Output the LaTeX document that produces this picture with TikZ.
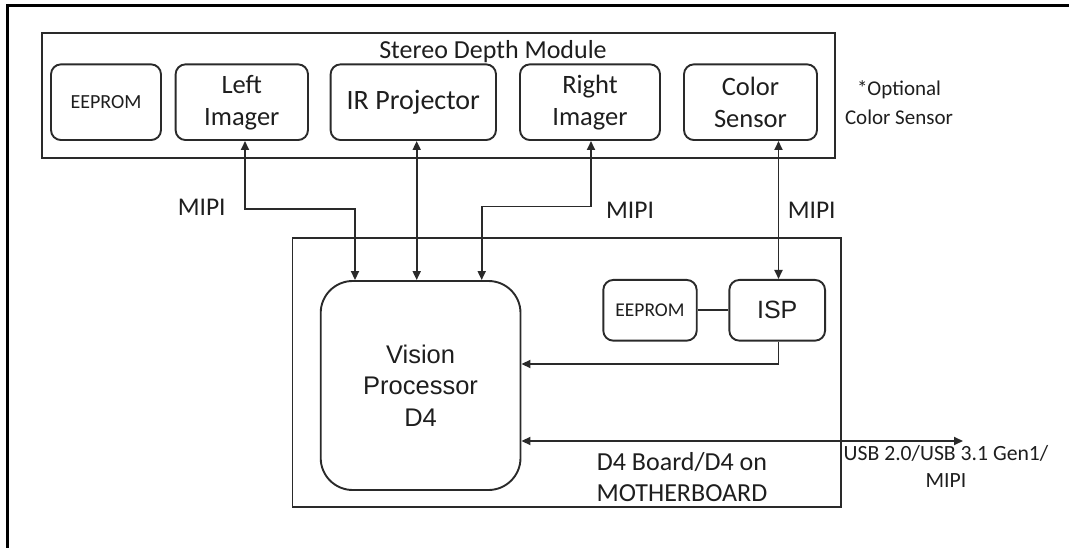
\documentclass[tikz,border=0pt]{standalone}
\usepackage{fontspec}
\setmainfont{Carlito}
\newfontfamily\arialf{Liberation Sans}
\usetikzlibrary{arrows.meta,calc}
\definecolor{ln}{HTML}{2A2A2A}
\definecolor{tx}{HTML}{1E1E1E}
\tikzset{
  frameline/.style={line width=3pt, black},
  outerbox/.style={draw=ln, line width=1.9pt},
  smallbox/.style={draw=ln, line width=1.9pt, rounded corners=10pt, align=center, inner sep=0pt, text=tx},
  bigbox/.style={draw=ln, line width=1.9pt, rounded corners=32pt, align=center, inner sep=0pt, text=tx},
  lbl/.style={text=tx, align=center, inner sep=0pt},
  bi/.style={draw=ln, line width=1.8pt, {Triangle[length=9pt,width=8pt]}-{Triangle[length=9pt,width=8pt]}},
  uni/.style={draw=ln, line width=1.8pt, -{Triangle[length=9pt,width=8pt]}},
  plain/.style={draw=ln, line width=1.8pt}
}
\begin{document}
\begin{tikzpicture}[x=1pt,y=-1pt]
\useasboundingbox (0,0) rectangle (1069,548);
% outer frame
\coordinate (fa) at (7,548);
\coordinate (fb) at (7,6);
\coordinate (fc) at (1069,6);
\draw[frameline] (fa) -- (fb) -- (fc);
% stereo depth module
\node[outerbox, minimum width=792.6pt, minimum height=125pt, inner sep=0pt] (sdm) at (438.7,95.8) {};
\node[lbl, font=\fontsize{26}{30}\selectfont] (title) at (493,52) {Stereo Depth Module};
\node[smallbox, minimum width=110pt, minimum height=75.7pt, font=\fontsize{20}{24}\selectfont] (ee1) at (106,102.2) {EEPROM};
\node[smallbox, minimum width=132.4pt, minimum height=75.7pt, font=\fontsize{26.5}{32}\selectfont] (lim) at (241.8,102.2) {Left\\Imager};
\node[smallbox, minimum width=165.4pt, minimum height=75.7pt, font=\fontsize{28}{32}\selectfont] (ir) at (413.3,102.2) {IR Projector};
\node[smallbox, minimum width=140pt, minimum height=75.7pt, font=\fontsize{26.5}{32}\selectfont] (rim) at (590,102.2) {Right\\Imager};
\node[smallbox, minimum width=133pt, minimum height=75.7pt, font=\fontsize{26.5}{32}\selectfont] (cs) at (750.5,102.2) {Color\\Sensor};
\node[lbl, font=\fontsize{21}{29}\selectfont] (opt) at (899,102.5) {*Optional\\Color Sensor};
% board
\node[outerbox, minimum width=548.2pt, minimum height=269pt, inner sep=0pt] (board) at (566.6,372.2) {};
\node[bigbox, minimum width=199.8pt, minimum height=209pt, font=\arialf\fontsize{25.5}{31.5}\selectfont] (vp) at (420.6,385.5) {Vision\\Processor\\D4};
\node[smallbox, minimum width=93.4pt, minimum height=60.7pt, font=\fontsize{19.5}{24}\selectfont] (ee2) at (650,310.3) {EEPROM};
\node[smallbox, minimum width=95.7pt, minimum height=60.7pt, font=\arialf\fontsize{25}{30}\selectfont] (isp) at (777.2,310.3) {ISP};
\node[lbl, font=\fontsize{26}{31.5}\selectfont] (brd) at (682,477.3) {D4 Board/D4 on\\MOTHERBOARD};
% labels
\node[lbl, font=\fontsize{25.5}{30}\selectfont] (m1) at (201.7,207) {MIPI};
\node[lbl, font=\fontsize{25.5}{30}\selectfont] (m2) at (630,210) {MIPI};
\node[lbl, font=\fontsize{25.5}{30}\selectfont] (m3) at (811.7,210) {MIPI};
\node[lbl, font=\fontsize{21.7}{27}\selectfont] (usb) at (946,466.5) {USB 2.0/USB 3.1 Gen1/\\MIPI};
% connectors
\draw[bi] ([xshift=3.2pt]lim.south) -- ++(0,68) -| ([xshift=-65.6pt]vp.north);
\draw[bi] ([xshift=3.4pt]ir.south) -- ([xshift=3.4pt]ir.south |- vp.north);
\draw[bi] ([xshift=1pt]rim.south) -- ++(0,65.5) -| ([xshift=61.1pt]vp.north);
\draw[bi] ([xshift=28pt]cs.south) -- ([xshift=28pt]cs.south |- isp.north);
\draw[plain] (ee2.east) -- (isp.west);
\draw[uni] ([xshift=1.3pt]isp.south) |- ([yshift=21.5pt]vp.east);
\coordinate (usbend) at (963,441);
\draw[bi] ([yshift=-55.5pt]vp.east) -- (usbend);
\end{tikzpicture}
\end{document}
